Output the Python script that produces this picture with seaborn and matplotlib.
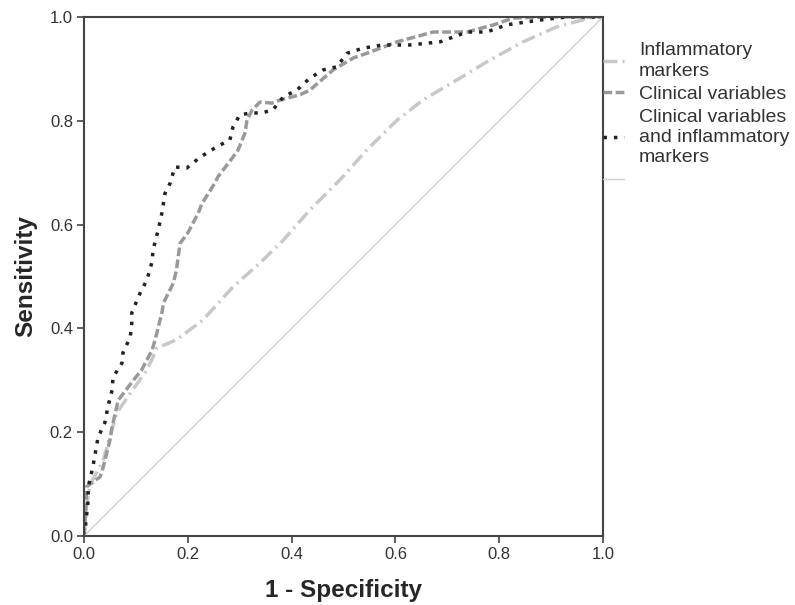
import seaborn as sns
import pandas as pd
import matplotlib.pyplot as plt

# ROC曲線の値
infl_x = [0, 0.005, 0.012, 0.037, 0.063, 0.089, 0.121, 0.133, 0.14, 0.178,
          0.229, 0.287, 0.339, 0.384, 0.435, 0.493, 0.545, 0.603, 0.653, 0.719,
          0.782, 0.846, 0.911, 0.975, 1.0]
infl_y = [0, 0.06, 0.10, 0.146, 0.237, 0.275, 0.32, 0.345, 0.362, 0.378,
          0.416, 0.48, 0.526, 0.57, 0.628, 0.686, 0.744, 0.801, 0.84, 0.879,
          0.917, 0.952, 0.981, 0.998, 1.0]

clin_x = [0, 0.003, 0.005, 0.031, 0.037, 0.05, 0.054, 0.066, 0.095, 0.111,
          0.131, 0.137, 0.15, 0.153, 0.172, 0.178, 0.185, 0.2, 0.22, 0.227,
          0.252, 0.258, 0.287, 0.297, 0.31, 0.314, 0.324, 0.339, 0.362, 0.378,
          0.416, 0.435, 0.48, 0.519, 0.545, 0.603, 0.673, 0.738, 0.79, 0.827,
          0.9, 1.0]
clin_y = [0, 0.04, 0.095, 0.114, 0.133, 0.185, 0.21, 0.262, 0.30, 0.32,
          0.358, 0.378, 0.43, 0.449, 0.487, 0.512, 0.564, 0.584, 0.622, 0.64,
          0.68, 0.692, 0.73, 0.744, 0.776, 0.801, 0.821, 0.836, 0.834, 0.84,
          0.85, 0.859, 0.898, 0.921, 0.93, 0.952, 0.971, 0.971, 0.985, 0.998,
          1.0, 1.0]

comb_x = [0, 0.002, 0.008, 0.008, 0.017, 0.027, 0.04, 0.046, 0.054, 0.056,
          0.073, 0.075, 0.089, 0.092, 0.092, 0.108, 0.121, 0.131, 0.133, 0.143,
          0.15, 0.156, 0.166, 0.175, 0.198, 0.224, 0.256, 0.281, 0.287, 0.30,
          0.32, 0.342, 0.364, 0.384, 0.41, 0.435, 0.461, 0.487, 0.507, 0.538,
          0.576, 0.628, 0.686, 0.738, 0.776, 0.815, 0.879, 0.93, 1.0]
comb_y = [0, 0.012, 0.069, 0.094, 0.133, 0.19, 0.218, 0.249, 0.281, 0.306,
          0.333, 0.353, 0.383, 0.41, 0.43, 0.468, 0.493, 0.528, 0.551, 0.59,
          0.622, 0.66, 0.68, 0.711, 0.709, 0.730, 0.75, 0.763, 0.788, 0.811,
          0.815, 0.815, 0.821, 0.846, 0.859, 0.882, 0.898, 0.904, 0.93, 0.94,
          0.946, 0.946, 0.952, 0.971, 0.971, 0.985, 0.994, 1.0, 1.0]

ref_x = [0, 1]
ref_y = [0, 1]

labels = ["Inflammatory\nmarkers", "Clinical variables",
          "Clinical variables\nand inflammatory\nmarkers", ""]
ticks = [0.0, 0.2, 0.4, 0.6, 0.8, 1.0]

sns.set_style("white")
plt.rcParams['font.family'] = ['Liberation Sans', 'DejaVu Sans']

fig = plt.figure(figsize=(7.95, 6.05), dpi=100)
ax = fig.add_axes([0.1057, 0.114, 0.6528, 0.858])

df_infl = pd.DataFrame({'x': infl_x, 'y': infl_y})
df_clin = pd.DataFrame({'x': clin_x, 'y': clin_y})
df_comb = pd.DataFrame({'x': comb_x, 'y': comb_y})
df_ref = pd.DataFrame({'x': ref_x, 'y': ref_y})

# 線種：SPSSっぽく
sns.lineplot(data=df_infl, x='x', y='y', sort=False, estimator=None, ax=ax,
             color='#c8c8c8', linewidth=2.5, linestyle=(0, (4, 1.5, 0.6, 1.5)))
sns.lineplot(data=df_clin, x='x', y='y', sort=False, estimator=None, ax=ax,
             color='#999999', linewidth=2.5, linestyle=(0, (2.5, 1)))
sns.lineplot(data=df_comb, x='x', y='y', sort=False, estimator=None, ax=ax,
             color='#222222', linewidth=2.5, linestyle=(0, (1, 2)))
sns.lineplot(data=df_ref, x='x', y='y', sort=False, estimator=None, ax=ax,
             color='#d0d0d0', linewidth=1)

ax.set_xlim(0, 1)
ax.set_ylim(0, 1)
ax.set_xticks(ticks)
ax.set_yticks(ticks)
ax.set_xticklabels([f"{t:.1f}" for t in ticks])
ax.set_yticklabels([f"{t:.1f}" for t in ticks])
ax.tick_params(direction='out', length=5, width=1.2, color='#444444',
               labelsize=12, labelcolor='#333333', pad=3,
               bottom=True, left=True)
for s in ax.spines.values():
    s.set_color('#444444')
    s.set_linewidth(1.5)

ax.set_xlabel('1 - Specificity', fontsize=17.5, fontweight='bold', labelpad=12)
ax.set_ylabel('Sensitivity', fontsize=17.5, fontweight='bold', labelpad=9)

handles = ax.get_lines()[:4]
leg = ax.legend(handles, labels, loc='upper left', bbox_to_anchor=(1.0, 0.951),
                frameon=False, fontsize=14, handlelength=1.1, handletextpad=0.75,
                labelspacing=0.3, borderpad=0, borderaxespad=0,
                labelcolor='#333333')
for t in leg.get_texts():
    t.set_linespacing(1.25)

fig.savefig('out.png', dpi=100)
